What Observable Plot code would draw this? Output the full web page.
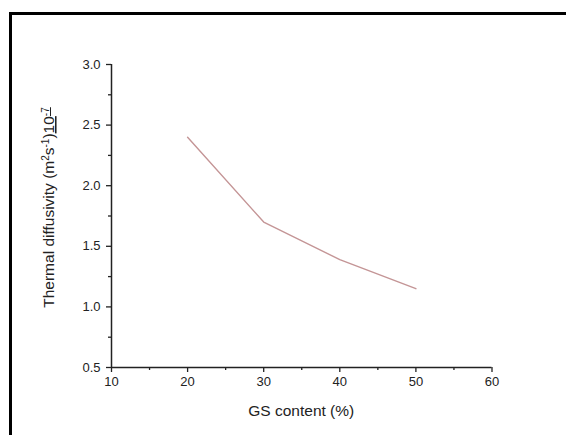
<!DOCTYPE html>
<html>
<head>
<meta charset="utf-8">
<script src="https://cdn.jsdelivr.net/npm/d3@7"></script>
<script src="https://cdn.jsdelivr.net/npm/@observablehq/plot@0.6"></script>
<style>
  html, body { margin: 0; padding: 0; background: #fff; overflow: hidden; }
  #chart { position: relative; width: 566px; height: 435px; }
</style>
</head>
<body>
<div id="chart"></div>
<script>
const gsContent = [20, 30, 40, 50];
const diffusivity = [2.40, 1.70, 1.39, 1.15];
const xTicks = [10, 20, 30, 40, 50, 60];
const xMinorTicks = [15, 25, 35, 45, 55];
const yTicks = [0.5, 1.0, 1.5, 2.0, 2.5, 3.0];
const yMinorTicks = [0.75, 1.25, 1.75, 2.25, 2.75];
const xTitle = "GS content (%)";

const data = gsContent.map((x, i) => ({x, y: diffusivity[i]}));
const ink = "#222";

const W = 566, H = 435;
const mL = 111, mR = 74.5, mT = 64, mB = 68;

const plot = Plot.plot({
  width: W,
  height: H,
  marginLeft: mL,
  marginRight: mR,
  marginTop: mT,
  marginBottom: mB,
  style: {fontFamily: "'Liberation Sans', Arial, sans-serif", fontSize: "13px", color: ink, background: "#fff"},
  x: {domain: [10, 60]},
  y: {domain: [0.5, 3.0]},
  marks: [
    Plot.axisX(xTicks, {tickSize: 5, tickPadding: 4, strokeWidth: 1.3, label: null, tickFormat: d => String(d)}),
    Plot.axisX(xMinorTicks, {tickSize: 3, strokeWidth: 1.3, label: null, tickFormat: () => ""}),
    Plot.axisY(yTicks, {tickSize: 5, tickPadding: 6, strokeWidth: 1.3, label: null, tickFormat: d3.format(".1f")}),
    Plot.axisY(yMinorTicks, {tickSize: 3, strokeWidth: 1.3, label: null, tickFormat: () => ""}),
    Plot.ruleX([10], {stroke: ink, strokeWidth: 1.5}),
    Plot.ruleY([0.5], {stroke: ink, strokeWidth: 1.5}),
    Plot.line(data, {x: "x", y: "y", stroke: "#c49596", strokeWidth: 1.4})
  ]
});

const svg = d3.select(plot);
svg.selectAll("g[aria-label$='tick label']")
  .attr("font-size", null)
  .style("font-size", "13px");

// outer frame
svg.append("rect")
  .attr("x", 10.5).attr("y", 13.5)
  .attr("width", 800).attr("height", 800)
  .attr("fill", "none").attr("stroke", "#000").attr("stroke-width", 3);

// x title
svg.append("text")
  .attr("x", mL + (W - mL - mR) / 2)
  .attr("y", 416)
  .attr("text-anchor", "middle")
  .attr("fill", ink)
  .style("font-size", "15.5px")
  .text(xTitle);

// y title with superscripts
const yt = svg.append("text")
  .attr("transform", `translate(54,${mT + (H - mT - mB) / 2 - 8}) rotate(-90)`)
  .attr("text-anchor", "middle")
  .attr("fill", ink)
  .style("font-size", "15.5px");
yt.append("tspan").text("Thermal diffusivity (m");
yt.append("tspan").attr("dy", -5).style("font-size", "10px").text("2");
yt.append("tspan").attr("dy", 5).text("s");
yt.append("tspan").attr("dy", -5).style("font-size", "10px").text("-1");
yt.append("tspan").attr("dy", 5).text(")");
yt.append("tspan").style("text-decoration", "underline").text("10");
yt.append("tspan").attr("dy", -5).style("font-size", "10px").style("text-decoration", "underline").text("-7");

document.getElementById("chart").appendChild(plot);
</script>
</body>
</html>
